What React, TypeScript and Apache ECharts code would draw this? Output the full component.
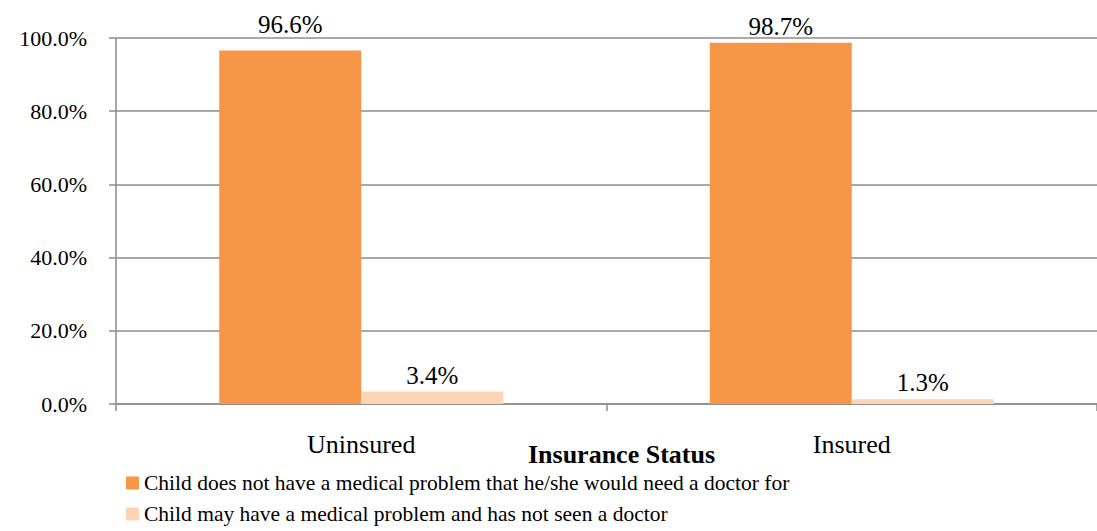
import React, { useEffect, useRef } from "react";
import * as echarts from "echarts";

const categories = ["Uninsured", "Insured"];
const seriesNames = [
  "Child does not have a medical problem that he/she would need a doctor for",
  "Child may have a medical problem and has not seen a doctor",
];
const noProblem = [96.6, 98.7];
const mayHaveProblem = [3.4, 1.3];
const yTicks = [0, 20, 40, 60, 80, 100];
const colors = ["#F79646", "#FCD5B5"];

const FONT = "'Liberation Serif', 'Times New Roman', serif";

export default function App() {
  const ref = useRef<HTMLDivElement>(null);
  useEffect(() => {
    if (!ref.current) return;
    const chart = echarts.init(ref.current, undefined, { renderer: "svg" });
    const label = {
      show: true,
      position: "top",
      distance: 4,
      fontFamily: FONT,
      fontSize: 25,
      color: "#000",
      formatter: (p: any) => p.value.toFixed(1) + "%",
    };
    const legendText = { fontFamily: FONT, fontSize: 21.5, color: "#000" };
    chart.setOption({
      animation: false,
      textStyle: { fontFamily: FONT },
      grid: { left: 116, right: -9, top: 38, bottom: 127 },
      legend: [
        {
          orient: "vertical",
          left: 121,
          top: 467,
          itemWidth: 13,
          itemHeight: 13,
          itemGap: 4,
          icon: "rect",
          textStyle: legendText,
          data: [seriesNames[0]],
        },
        {
          orient: "vertical",
          left: 121,
          top: 498,
          itemWidth: 13,
          itemHeight: 13,
          itemGap: 4,
          icon: "rect",
          textStyle: legendText,
          data: [seriesNames[1]],
        },
      ],
      xAxis: {
        type: "category",
        data: categories,
        name: "Insurance Status",
        nameLocation: "middle",
        nameGap: 37,
        nameMoveOverlap: false,
        nameTextStyle: {
          fontFamily: FONT,
          fontSize: 26,
          fontWeight: "bold",
          color: "#000",
          padding: [0, 0, 0, 30],
        },
        axisLine: { lineStyle: { color: "#8c8c8c", width: 1.5 } },
        axisTick: { show: true, length: 7, lineStyle: { color: "#8c8c8c", width: 1.5 } },
        axisLabel: { margin: 27, fontFamily: FONT, fontSize: 26, color: "#000" },
      },
      yAxis: {
        type: "value",
        min: yTicks[0],
        max: yTicks[yTicks.length - 1],
        interval: yTicks[1] - yTicks[0],
        axisLine: { show: true, lineStyle: { color: "#8c8c8c", width: 1.5 } },
        axisTick: { show: true, length: 7, lineStyle: { color: "#8c8c8c", width: 1.5 } },
        splitLine: { lineStyle: { color: "#8c8c8c", width: 1.5 } },
        axisLabel: {
          margin: 29,
          fontFamily: FONT,
          fontSize: 22,
          color: "#000",
          formatter: (v: number) => v.toFixed(1) + "%",
        },
      },
      series: [
        {
          name: seriesNames[0],
          type: "bar",
          data: noProblem.map((v, i) => ({ value: v, label: { distance: i === 0 ? 13 : 4 } })),
          itemStyle: { color: colors[0] },
          barWidth: 142,
          barGap: "0%",
          label,
        },
        {
          name: seriesNames[1],
          type: "bar",
          data: mayHaveProblem,
          itemStyle: { color: colors[1] },
          barWidth: 142,
          barGap: "0%",
          label,
        },
      ],
    });
    return () => chart.dispose();
  }, []);
  return <div ref={ref} style={{ width: 1097, height: 531, position: "absolute", left: 0, top: 0 }} />;
}
